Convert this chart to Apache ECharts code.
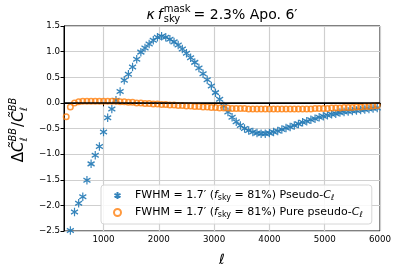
<!DOCTYPE html>
<html><head><meta charset="utf-8">
<script src="https://cdn.jsdelivr.net/npm/echarts@6/dist/echarts.min.js"></script>
<style>html,body{margin:0;padding:0;background:#fff}#c{width:399px;height:272px}</style>
</head><body><div id="c"></div>
<script>
const ell = [325,400,475,550,625,700,775,850,925,1000,
1075,1150,1225,1300,1375,1450,1525,1600,1675,1750,
1825,1900,1975,2050,2125,2200,2275,2350,2425,2500,
2575,2650,2725,2800,2875,2950,3025,3100,3175,3250,
3325,3400,3475,3550,3625,3700,3775,3850,3925,4000,
4075,4150,4225,4300,4375,4450,4525,4600,4675,4750,
4825,4900,4975,5050,5125,5200,5275,5350,5425,5500,
5575,5650,5725,5800,5875,5950];
const pseudoCl = [null,-2.49,-2.13,-1.96,-1.83,-1.51,-1.19,-1.02,-0.85,-0.57,
-0.29,-0.12,0.05,0.22,0.44,0.56,0.70,0.85,0.99,1.07,
1.15,1.22,1.28,1.30,1.28,1.24,1.19,1.13,1.05,0.97,
0.88,0.79,0.68,0.57,0.45,0.33,0.20,0.07,-0.06,-0.18,
-0.28,-0.37,-0.44,-0.50,-0.54,-0.57,-0.59,-0.60,-0.60,-0.59,
-0.57,-0.55,-0.52,-0.49,-0.47,-0.44,-0.41,-0.38,-0.36,-0.33,
-0.31,-0.28,-0.26,-0.24,-0.22,-0.21,-0.19,-0.18,-0.17,-0.16,
-0.15,-0.14,-0.13,-0.12,-0.11,-0.10];
const purePseudoCl = [-0.27,-0.08,0.00,0.02,0.03,0.03,0.03,0.03,0.03,0.03,
0.03,0.03,0.03,0.02,0.02,0.01,0.01,0.00,0.00,-0.01,
-0.01,-0.02,-0.02,-0.03,-0.03,-0.04,-0.04,-0.05,-0.05,-0.06,
-0.06,-0.07,-0.07,-0.08,-0.08,-0.09,-0.09,-0.10,-0.10,-0.10,
-0.11,-0.11,-0.11,-0.11,-0.12,-0.12,-0.12,-0.12,-0.12,-0.12,
-0.12,-0.12,-0.12,-0.12,-0.12,-0.12,-0.12,-0.12,-0.12,-0.12,
-0.11,-0.11,-0.11,-0.11,-0.10,-0.10,-0.10,-0.09,-0.09,-0.09,
-0.08,-0.08,-0.07,-0.07,-0.06,-0.05];
const xTicks = [1000,2000,3000,4000,5000,6000];
const seriesNames = ['pseudo','pure'];

const FONT = 'DejaVu Sans';
const STAR = 'path://M5 0L5 10M0.67 2.5L9.33 7.5M0.67 7.5L9.33 2.5';
const BLUE = '#1f77b4', ORANGE = '#ff7f0e';

const mctx = document.createElement('canvas').getContext('2d');
function tw(t, size, italic){ mctx.font = (italic?'italic ':'') + size + 'px "' + FONT + '"'; return mctx.measureText(t).width; }

function buildRun(pieces, baseY){
  const els = []; let x = 0;
  pieces.forEach(p => {
    const font = (p.italic?'italic ':'')+p.size+'px "'+FONT+'"';
    if (p.stack){
      const w1 = tw(p.sup, p.size, p.italic), w2 = tw(p.sub, p.size, p.italic);
      els.push({type:'text', x:x, y:baseY + p.supDy, style:{text:p.sup, font:font, fill:'#000', verticalAlign:'middle', align:'left'}});
      els.push({type:'text', x:x, y:baseY + p.subDy, style:{text:p.sub, font:font, fill:'#000', verticalAlign:'middle', align:'left'}});
      x += Math.max(w1,w2) + (p.after||0);
    } else {
      els.push({type:'text', x:x, y:baseY, style:{text:p.t, font:font, fill:'#000', verticalAlign:'middle', align:'left'}});
      x += tw(p.t, p.size, p.italic) + (p.after||0);
    }
  });
  return {els, width:x};
}

const titleRun = buildRun([
  {t:'κ', size:14, italic:true, after:3},
  {t:'f', size:14, italic:true, after:1},
  {stack:true, sup:'mask', sub:'sky', size:10, supDy:-5.5, subDy:4.5, after:3},
  {t:'= 2.3% Apo. 6′', size:14}
], 0);
const ylabRun = buildRun([
  {t:'Δ', size:15},
  {t:'C̃', size:15, italic:true},
  {stack:true, sup:'BB', sub:'ℓ', size:10, italic:true, supDy:-6, subDy:5, after:1},
  {t:'/', size:15},
  {t:'C̃', size:15, italic:true},
  {stack:true, sup:'BB', sub:'ℓ', size:10, italic:true, supDy:-6, subDy:5}
], 0);

const chart = echarts.init(document.getElementById('c'), null, {renderer:'canvas'});
const sub = {fontFamily:FONT, fontSize:8, padding:[5,0,0,0], color:'#000'};
const rich = {
  n:{fontFamily:FONT, fontSize:11, color:'#000'},
  i:{fontFamily:FONT, fontSize:11, fontStyle:'italic', color:'#000'},
  s:sub,
  si:Object.assign({}, sub, {fontStyle:'italic'}),
  sp:{width:9}
};
const legendText = {
  pseudo:'{sp|}{n|FWHM = 1.7′ (}{i|f}{s|sky}{n| = 81%) Pseudo-}{i|C}{si|ℓ}',
  pure:'{sp|}{n|FWHM = 1.7′ (}{i|f}{s|sky}{n| = 81%) Pure pseudo-}{i|C}{si|ℓ}'
};

chart.setOption({
  animation:false,
  backgroundColor:'#fff',
  grid:{left:64, right:19, top:26, bottom:40, show:true, borderColor:'#000', borderWidth:1, backgroundColor:'transparent'},
  xAxis:{type:'value', min:285, max:6000,
    axisLine:{show:true, lineStyle:{color:'#000', width:1}},
    axisTick:{show:true, length:3.5, customValues:xTicks, lineStyle:{color:'#000'}},
    axisLabel:{customValues:xTicks, fontFamily:FONT, fontSize:8.7, color:'#000', margin:4, formatter:v => String(Math.round(v))},
    splitLine:{show:true, lineStyle:{color:'#cfcfcf', width:1.2}},
    name:'ℓ', nameLocation:'middle', nameGap:22, nameTextStyle:{fontFamily:FONT, fontSize:14, fontStyle:'italic', color:'#000'}
  },
  yAxis:{type:'value', min:-2.5, max:1.5, interval:0.5,
    axisLine:{show:true, lineStyle:{color:'#000', width:1}},
    axisTick:{show:true, length:3.5, lineStyle:{color:'#000'}},
    axisLabel:{fontFamily:FONT, fontSize:8.7, color:'#000', margin:4, formatter:v => (v<0?'−':'') + Math.abs(v).toFixed(1)},
    splitLine:{show:true, lineStyle:{color:'#cfcfcf', width:1.2}}
  },
  legend:{orient:'vertical', left:101, top:185, itemGap:5, itemWidth:7, itemHeight:7,
    padding:[5,9,5,12], backgroundColor:'rgba(255,255,255,0.85)', borderColor:'#d6d6d6', borderWidth:1, borderRadius:3,
    data:[{name:'pseudo', icon:STAR}, {name:'pure', icon:'circle'}],
    formatter:name => legendText[name],
    textStyle:{fontFamily:FONT, fontSize:11, color:'#000', rich:rich}
  },
  graphic:[
    {type:'group', x:222 - titleRun.width/2, y:15, children:titleRun.els},
    {type:'group', x:19, y:130 + ylabRun.width/2, rotation:Math.PI/2, children:ylabRun.els}
  ],
  series:[
    {name:seriesNames[0], type:'scatter', z:3, symbol:STAR, symbolSize:[7,8.5],
      itemStyle:{color:BLUE, borderColor:BLUE, borderWidth:1.3, opacity:0.9},
      data:ell.map((x,i)=>[x, pseudoCl[i]]).filter(d=>d[1]!==null),
      markLine:{silent:true, symbol:['none','none'], label:{show:false}, lineStyle:{color:'#000', width:1.5, type:'solid'}, data:[{yAxis:0}]}
    },
    {name:seriesNames[1], type:'scatter', z:4, symbol:'circle', symbolSize:5.5,
      itemStyle:{color:'rgba(255,255,255,0)', borderColor:ORANGE, borderWidth:1.5},
      data:ell.map((x,i)=>[x, purePseudoCl[i]])
    }
  ]
});
</script></body></html>
